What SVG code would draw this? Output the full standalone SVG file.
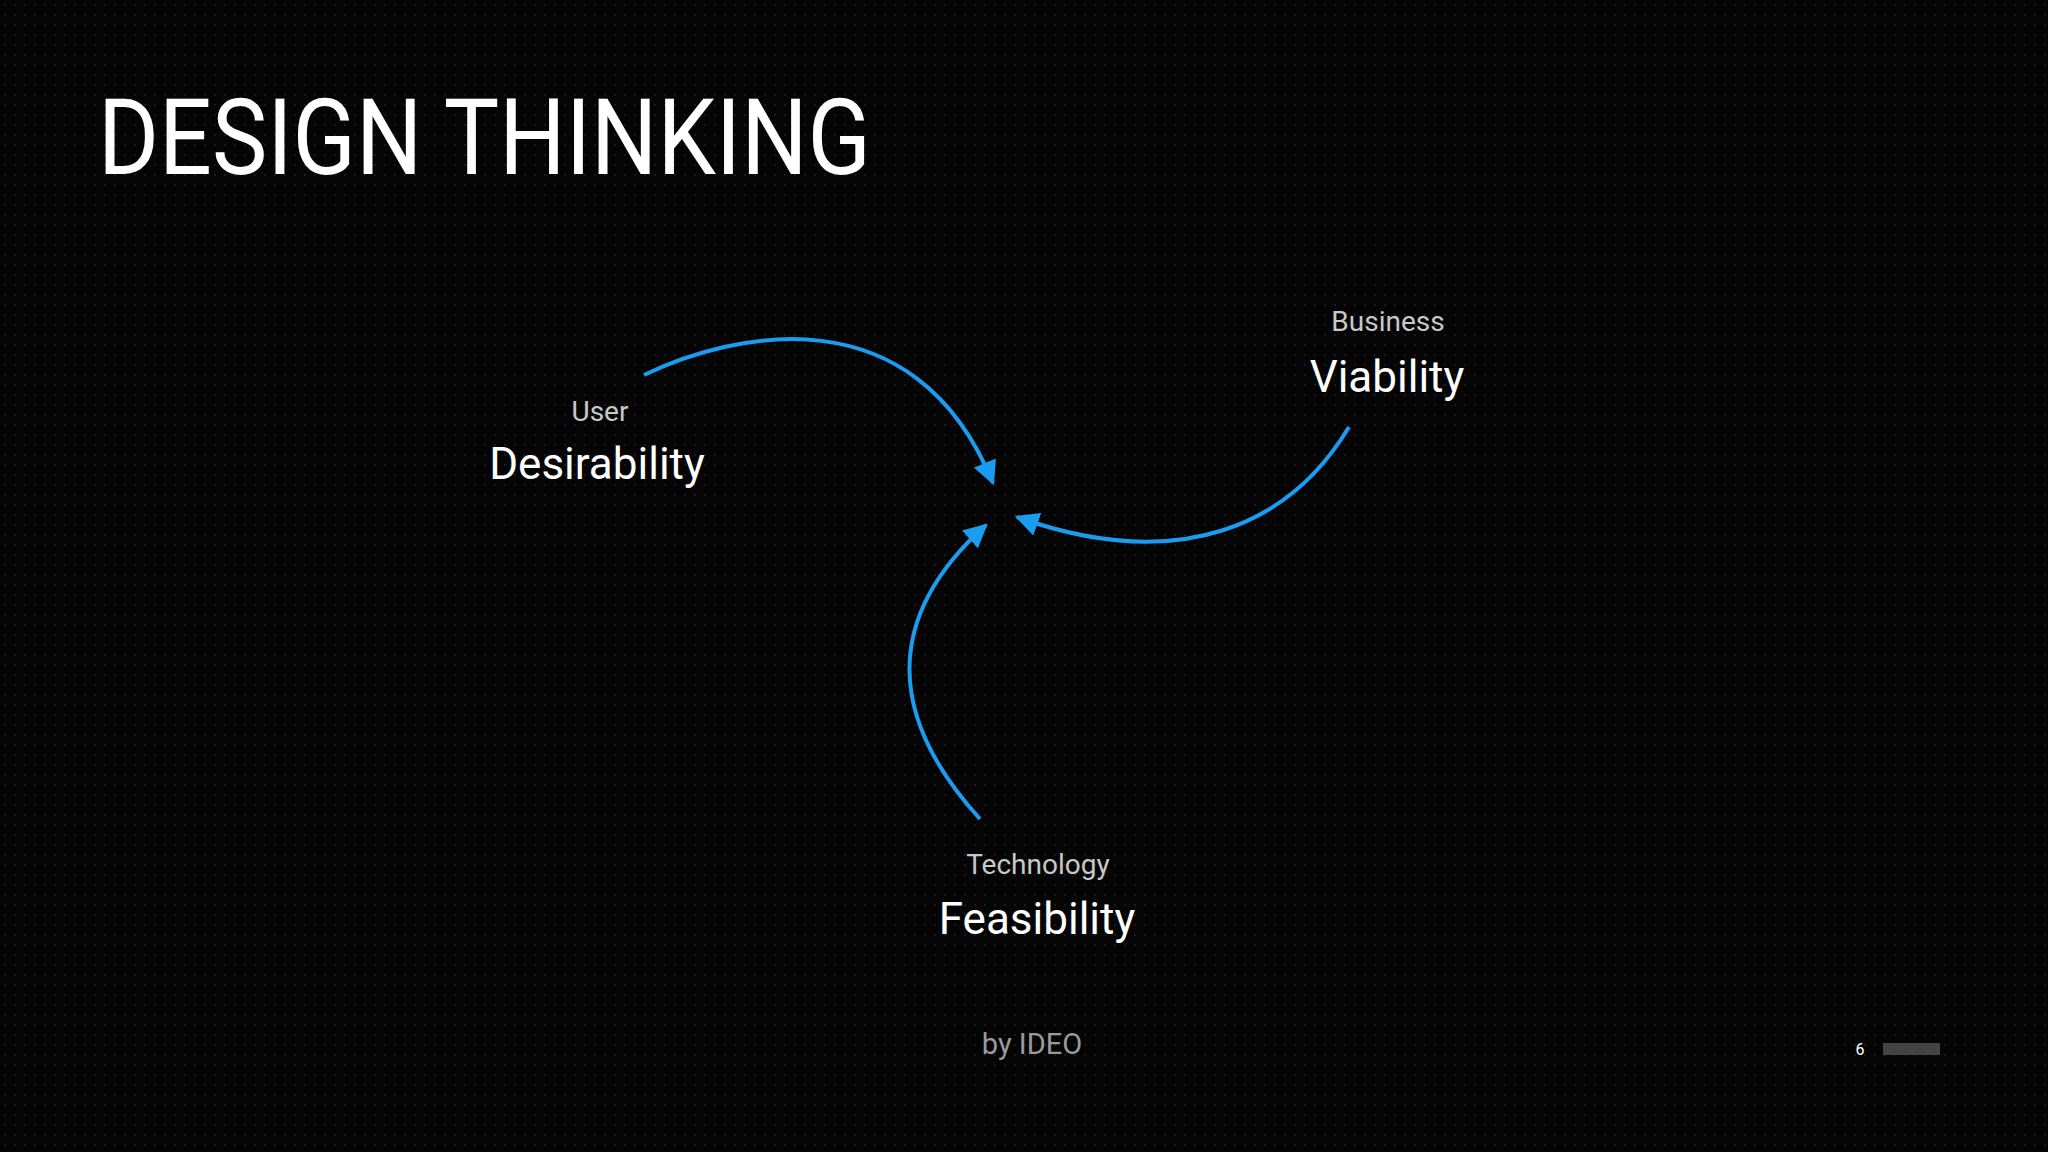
<svg xmlns="http://www.w3.org/2000/svg" width="2048" height="1152" viewBox="0 0 2048 1152">
<defs>
<pattern id="dots" width="10" height="10" patternUnits="userSpaceOnUse"><circle cx="5" cy="5" r="1" fill="#222"/></pattern>
<marker id="ah" viewBox="0 0 10 10" refX="9" refY="5" markerWidth="6" markerHeight="6" markerUnits="strokeWidth" orient="auto"><path d="M0,0 L10,5 L0,10 z" fill="#1a9cf0"/></marker>
</defs>
<style>
text{font-family:Roboto,"Liberation Sans",sans-serif;text-anchor:middle}
.sub{fill:#c8c8c8;font-size:28px}
.main{fill:#fff;font-size:44px}
.arc{fill:none;stroke:#1a9cf0;stroke-width:4;marker-end:url(#ah)}
</style>
<rect width="2048" height="1152" fill="#050505"/>
<rect width="2048" height="1152" fill="url(#dots)"/>
<text x="98" y="174" style="text-anchor:start;font-size:106px" fill="#fff" textLength="773" lengthAdjust="spacingAndGlyphs">DESIGN THINKING</text>
<g id="desirability"><text class="sub" x="600" y="421">User</text><text class="main" x="597" y="479">Desirability</text></g>
<g id="viability"><text class="sub" x="1388" y="331">Business</text><text class="main" x="1387" y="392">Viability</text></g>
<g id="feasibility"><text class="sub" x="1038" y="874">Technology</text><text class="main" x="1037" y="934">Feasibility</text></g>
<g id="connectors">
<path class="arc" d="M644,375 C731,333 914,290 993,483"/>
<path class="arc" d="M1349,427 C1290,525 1180,575 1017,517"/>
<path class="arc" d="M980,819 C890,720 880,620 986,525"/>
</g>
<text x="1032" y="1054" fill="#9a9a9a" font-size="29">by IDEO</text>
<text x="1860" y="1055" fill="#fff" font-size="16">6</text>
<rect x="1883" y="1043" width="57" height="12" fill="#444"/>
</svg>
